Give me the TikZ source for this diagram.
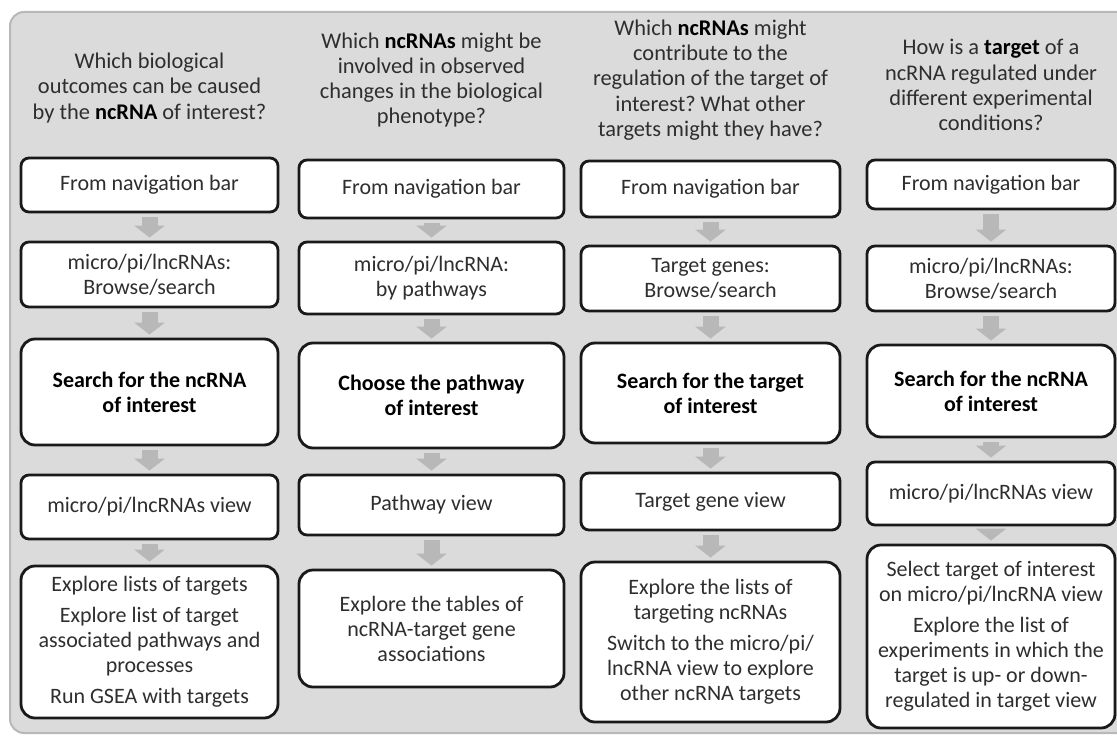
\documentclass[tikz,border=0pt]{standalone}
\usepackage{fontspec}
\setmainfont{Carlito}
\usetikzlibrary{arrows.meta}
\frenchspacing

\begin{document}
\begin{tikzpicture}[x=0.5pt, y=-0.5pt,
  box/.style={draw=black!90, line width=1.4pt, fill=white, rounded corners=4pt, align=center, text=black!82, font=\fontsize{11}{12.5}\selectfont, inner sep=2pt},
  bigbox/.style={box, rounded corners=7pt},
  question/.style={align=center, text=black!82, font=\fontsize{11.2}{12.6}\selectfont},
  flow/.style={draw=black!28, line width=8pt, -{Triangle[width=15pt, length=6pt]}, shorten <=2pt, shorten >=1.5pt}]
\useasboundingbox (0,0) rectangle (1117,738);
\draw[draw=black!28, line width=1pt, fill=black!14, rounded corners=7pt] (10,12) rectangle (1135,733);

% questions
\node[question, anchor=center] (q1) at (149.5,88) {Which biological\\outcomes can be caused\\by the \textbf{\color{black}ncRNA} of interest?};
\node[question, anchor=center] (q2) at (431.5,80) {Which \textbf{\color{black}ncRNAs} might be\\involved in observed\\changes in the biological\\phenotype?};
\node[question, anchor=center] (q3) at (710.5,80) {Which \textbf{\color{black}ncRNAs} might\\contribute to the\\regulation of the target of\\interest? What other\\targets might they have?};
\node[question, anchor=center] (q4) at (991,85) {How is a \textbf{\color{black}target} of a\\ncRNA regulated under\\different experimental\\conditions?};

% column 1
\node[box, anchor=center, minimum width=128.5pt, minimum height=27pt] (a1) at (149.5,185) {From navigation bar};
\node[box, anchor=center, minimum width=128.5pt, minimum height=32.5pt] (a2) at (149.5,274.5) {micro/pi/lncRNAs:\\Browse/search};
\node[bigbox, anchor=center, minimum width=128.5pt, minimum height=53pt] (a3) at (149.5,392) {\textbf{\color{black}Search for the ncRNA}\\\textbf{\color{black}of interest}};
\node[box, anchor=center, minimum width=128.5pt, minimum height=32pt] (a4) at (149.5,507) {micro/pi/lncRNAs view};
\node[bigbox, anchor=center, minimum width=128.5pt, minimum height=76pt] (a5) at (149.5,642) {Explore lists of targets\\[3pt]Explore list of target\\associated pathways and\\processes\\[3pt]Run GSEA with targets};

% column 2
\node[box, anchor=center, minimum width=132.5pt, minimum height=29pt] (b1) at (431.5,189) {From navigation bar};
\node[box, anchor=center, minimum width=132.5pt, minimum height=36pt] (b2) at (431.5,278) {micro/pi/lncRNA:\\by pathways};
\node[bigbox, anchor=center, minimum width=132.5pt, minimum height=52.5pt] (b3) at (431.5,395.5) {\textbf{\color{black}Choose the pathway}\\\textbf{\color{black}of interest}};
\node[box, anchor=center, minimum width=132.5pt, minimum height=30pt] (b4) at (431.5,505) {Pathway view};
\node[bigbox, anchor=center, minimum width=132.5pt, minimum height=58.5pt] (b5) at (431.5,628.5) {Explore the tables of\\ncRNA-target gene\\associations};

% column 3
\node[box, anchor=center, minimum width=129.5pt, minimum height=28pt] (c1) at (710.5,189) {From navigation bar};
\node[box, anchor=center, minimum width=129.5pt, minimum height=32.5pt] (c2) at (710.5,278.5) {Target genes:\\Browse/search};
\node[bigbox, anchor=center, minimum width=129.5pt, minimum height=50pt] (c3) at (710.5,393) {\textbf{\color{black}Search for the target}\\\textbf{\color{black}of interest}};
\node[box, anchor=center, minimum width=129.5pt, minimum height=28.5pt] (c4) at (710.5,501.5) {Target gene view};
\node[bigbox, anchor=center, minimum width=129.5pt, minimum height=80pt] (c5) at (710.5,642) {Explore the lists of\\targeting ncRNAs\\[3pt]Switch to the micro/pi/\\lncRNA view to explore\\other ncRNA targets};

% column 4
\node[box, anchor=center, minimum width=124pt, minimum height=24.5pt] (d1) at (991,184.5) {From navigation bar};
\node[box, anchor=center, minimum width=124pt, minimum height=32.5pt] (d2) at (991,278.5) {micro/pi/lncRNAs:\\Browse/search};
\node[bigbox, anchor=center, minimum width=124pt, minimum height=46pt] (d3) at (991,391) {\textbf{\color{black}Search for the ncRNA}\\\textbf{\color{black}of interest}};
\node[box, anchor=center, minimum width=124pt, minimum height=31.5pt] (d4) at (991,493.5) {micro/pi/lncRNAs view};
\node[bigbox, anchor=center, minimum width=124pt, minimum height=91.5pt] (d5) at (991,636.5) {Select target of interest\\on micro/pi/lncRNA view\\[3pt]Explore the list of\\experiments in which the\\target is up- or down-\\regulated in target view};

% arrows
\draw[flow] (a1) -- (a2);
\draw[flow] (a2) -- (a3);
\draw[flow] (a3) -- (a4);
\draw[flow] (a4) -- (a5);
\draw[flow] (b1) -- (b2);
\draw[flow] (b2) -- (b3);
\draw[flow] (b3) -- (b4);
\draw[flow] (b4) -- (b5);
\draw[flow] (c1) -- (c2);
\draw[flow] (c2) -- (c3);
\draw[flow] (c3) -- (c4);
\draw[flow] (c4) -- (c5);
\draw[flow] (d1) -- (d2);
\draw[flow] (d2) -- (d3);
\draw[flow] (d3) -- (d4);
\draw[flow] (d4) -- (d5);
\end{tikzpicture}
\end{document}
